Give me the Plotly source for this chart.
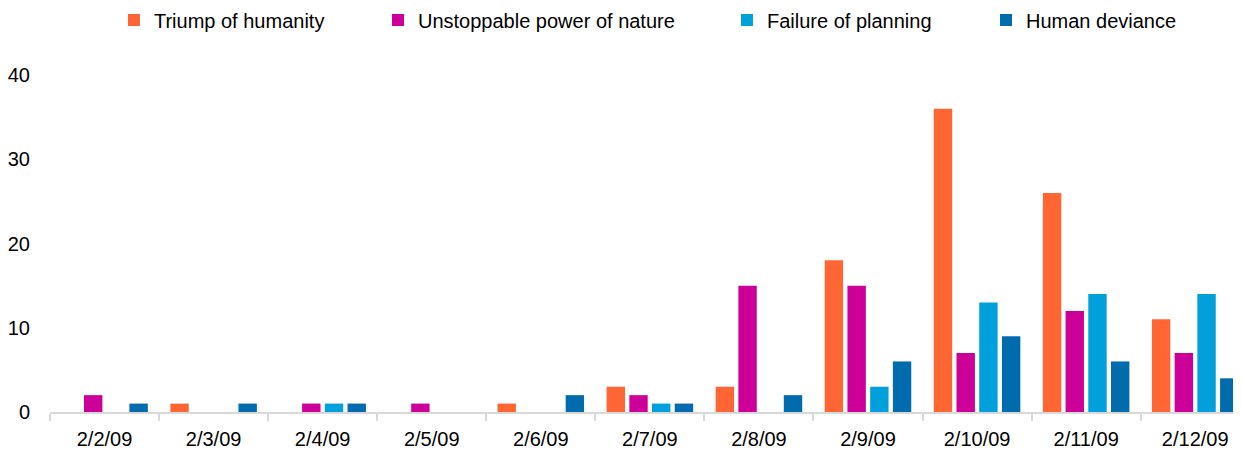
import plotly.graph_objects as go

dates = ["2/2/09", "2/3/09", "2/4/09", "2/5/09", "2/6/09", "2/7/09",
         "2/8/09", "2/9/09", "2/10/09", "2/11/09", "2/12/09"]
triumph = [0, 1, 0, 0, 1, 3, 3, 18, 36, 26, 11]
nature = [2, 0, 1, 1, 0, 2, 15, 15, 7, 12, 7]
planning = [0, 0, 1, 0, 0, 1, 0, 3, 13, 14, 14]
deviance = [1, 1, 1, 0, 2, 1, 2, 6, 9, 6, 4]

names = ["Triump of humanity", "Unstoppable power of nature",
         "Failure of planning", "Human deviance"]
values = [triumph, nature, planning, deviance]
colors = ["#FF6633", "#CC0099", "#00A0DC", "#006CAE"]
legend_ids = ["legend", "legend2", "legend3", "legend4"]
legend_x = [0.0537, 0.2754, 0.5684, 0.7859]

FONT = "Liberation Sans, Arial, sans-serif"
W, H = 1233, 447  # page body has an 8px default margin

fig = go.Figure()
for name, vals, col, lid in zip(names, values, colors, legend_ids):
    fig.add_trace(go.Bar(x=dates, y=vals, name=name, marker_color=col,
                         marker_line_width=0, legend=lid))

layout_legends = {}
for lid, lx in zip(legend_ids, legend_x):
    layout_legends[lid] = dict(
        orientation="h", x=lx, xanchor="left", xref="paper",
        y=1 - 12 / H, yanchor="middle", yref="container",
        font=dict(size=20, family=FONT, color="#000000"),
        itemwidth=30, bgcolor="rgba(0,0,0,0)",
    )

fig.update_layout(
    width=W, height=H,
    margin=dict(l=42, r=0, t=67, b=43, autoexpand=False),
    plot_bgcolor="white", paper_bgcolor="white",
    font=dict(family=FONT, size=20, color="#000000"),
    barmode="group", bargap=0.167, bargroupgap=0.19,
    showlegend=True,
    **layout_legends,
)
fig.update_xaxes(range=[-0.5, 10.42], showline=True, linecolor="#d9d9d9",
                 linewidth=2, ticks="outside", tickson="boundaries", ticklen=7,
                 tickcolor="#d9d9d9", tickwidth=2, showgrid=False,
                 ticklabelstandoff=8, tickfont=dict(size=20))
fig.update_yaxes(range=[0, 40], dtick=10, showgrid=False, zeroline=False,
                 showline=False, ticks="", ticklabelstandoff=19,
                 tickfont=dict(size=20))

fig.write_html("out.html")
